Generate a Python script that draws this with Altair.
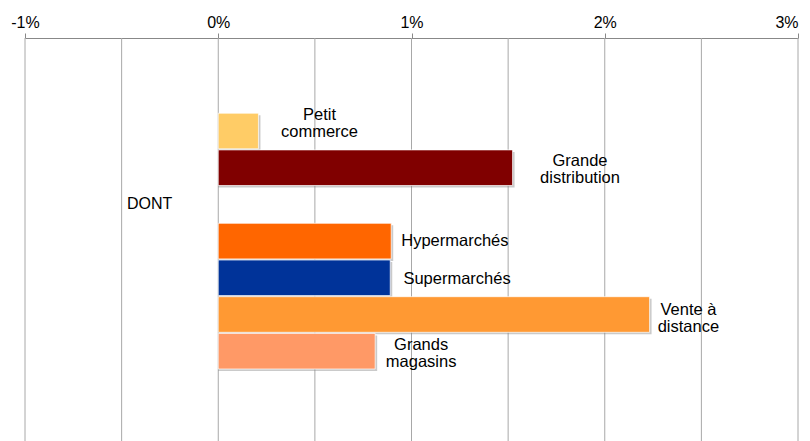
import altair as alt
import pandas as pd

categories = ["Petit commerce", "Grande distribution", "Hypermarchés",
              "Supermarchés", "Vente à distance", "Grands magasins"]
values = [0.208, 1.523, 0.895, 0.89, 2.232, 0.812]
colors = ["#FFCC66", "#800000", "#FF6600", "#003399", "#FF9933", "#FF9966"]
row_order = ["Petit commerce", "Grande distribution", "DONT", "Hypermarchés",
             "Supermarchés", "Vente à distance", "Grands magasins"]
label_text = ["Petit\ncommerce", "Grande\ndistribution", "Hypermarchés",
              "Supermarchés", "Vente à\ndistance", "Grands\nmagasins"]
label_x = [0.524, 1.872, 0.947, 0.958, 2.433, 1.05]
label_align = ["center", "center", "left", "left", "center", "center"]
label_dy = [-16, -7, 0, 1, -5, -6]
axis_ticks = [-1, 0, 1, 2, 3]
grid_ticks = [-1, -0.5, 0, 0.5, 1, 1.5, 2, 2.5, 3]
group_label = "DONT"
group_label_x = -0.472

FONT = "Liberation Sans"

bars_df = pd.DataFrame({"cat": categories, "value": values})
labels_df = pd.DataFrame({"cat": categories, "text": label_text, "lx": label_x,
                          "align": label_align, "dy": label_dy})
grid_df = pd.DataFrame({"g": grid_ticks})
dont_df = pd.DataFrame({"cat": [group_label], "text": [group_label], "lx": [group_label_x]})

xscale = alt.Scale(domain=[-1, 3], nice=False, zero=False)
yscale = alt.Scale(domain=row_order, range=[75.2, 331], paddingInner=0.03, paddingOuter=0)
xaxis = alt.Axis(orient="top", values=axis_ticks, labelExpr="datum.value + '%'",
                 grid=False, tickSize=5, tickColor="#888888", domainColor="#888888",
                 title=None, labelFont=FONT, labelFontSize=16, labelColor="#000000",
                 labelPadding=3, labelFlush=False, labelOverlap=False,
                 labelAlign={"condition": {"test": "datum.value == 3", "value": "right"},
                             "value": "center"})

grid = alt.Chart(grid_df).mark_rule(color="#a8a8a8", strokeWidth=1).encode(
    x=alt.X("g:Q", scale=xscale, axis=xaxis)
)

shadow = alt.Chart(bars_df).mark_bar(color="#8a8a8a", opacity=0.45, xOffset=2, yOffset=2).encode(
    x=alt.X("value:Q", scale=xscale, axis=xaxis),
    x2=alt.datum(0),
    y=alt.Y("cat:N", scale=yscale, axis=None),
)

bars = alt.Chart(bars_df).mark_bar(stroke="#ffffff", strokeWidth=1, strokeOpacity=0.7).encode(
    x=alt.X("value:Q", scale=xscale, axis=xaxis),
    x2=alt.datum(0),
    y=alt.Y("cat:N", scale=yscale, axis=None),
    color=alt.Color("cat:N", scale=alt.Scale(domain=categories, range=colors), legend=None),
)

texts = []
combos = sorted(set(zip(label_align, label_dy)))
for al, dy in combos:
    t = alt.Chart(labels_df).transform_filter(
        (alt.datum.align == al) & (alt.datum.dy == dy)
    ).mark_text(align=al, baseline="middle", dy=dy, lineBreak="\n", lineHeight=17,
                font=FONT, fontSize=16.5, color="#000000").encode(
        x=alt.X("lx:Q", scale=xscale, axis=xaxis),
        y=alt.Y("cat:N", scale=yscale, axis=None),
        text="text:N",
    )
    texts.append(t)

dont = alt.Chart(dont_df).mark_text(align="left", baseline="middle", font=FONT, fontSize=16,
                                    color="#000000").encode(
    x=alt.X("lx:Q", scale=xscale, axis=xaxis),
    y=alt.Y("cat:N", scale=yscale, axis=None),
    text="text:N",
)

chart = alt.layer(grid, shadow, bars, *texts, dont).properties(
    width=773, height=406,
    padding={"left": 17, "top": 30, "right": 2, "bottom": 0},
    autosize=alt.AutoSizeParams(type="none"),
).configure_view(stroke=None)

chart.save("out.html", embed_options={"renderer": "svg", "actions": False})
